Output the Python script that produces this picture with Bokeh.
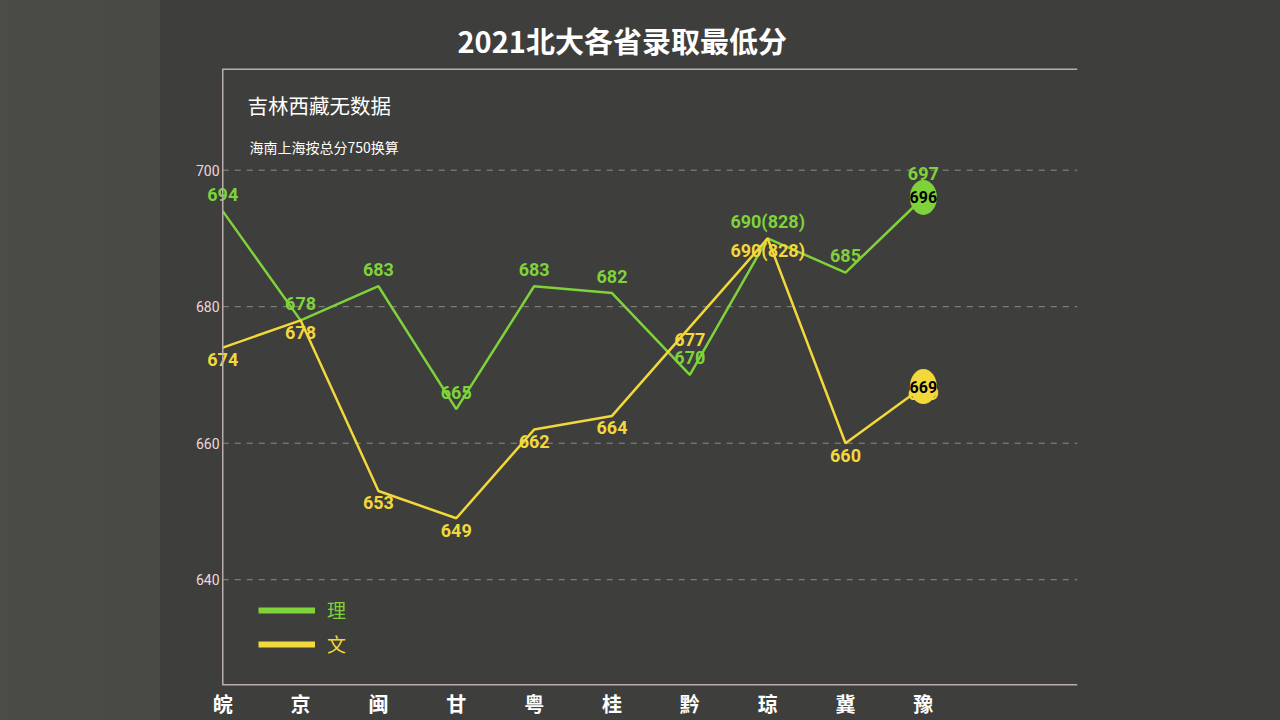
from bokeh.plotting import figure
from bokeh.models import FixedTicker, LinearAxis, Label, Legend, LegendItem, Range1d, Span
from bokeh.core.properties import value
from bokeh.embed import file_html
from bokeh.resources import INLINE

# ---------------- data ----------------
provinces = ["皖", "京", "闽", "甘", "粤", "桂", "黔", "琼", "冀", "豫"]
li_scores = [694, 678, 683, 665, 683, 682, 670, 690, 685, 697]
wen_scores = [674, 678, 653, 649, 662, 664, 677, 690, 660, 669]
li_labels = ["694", "678", "683", "665", "683", "682", "670", "690(828)", "685", "697"]
wen_labels = ["674", "678", "653", "649", "662", "664", "677", "690(828)", "660", "669"]
# animated head marker (current value while the line is drawing)
li_head_value = 696
wen_head_value = 668.3
li_head_label = "696"
wen_head_label = "669"
y_ticks = [640, 660, 680, 700]

title_text = "2021北大各省录取最低分"
note1 = "吉林西藏无数据"
note2 = "海南上海按总分750换算"

GREEN = "#7fd33a"
YELLOW = "#f2d83a"
AXIS = "#b8aeae"
BG = "#3e3e3c"

X0, X1 = -0.35, 10.98   # a little room left of the first category so its labels are not cut
Y0, Y1 = 624.5, 714.9

x_idx = list(range(len(provinces)))
li_line_y = li_scores[:-1] + [li_head_value]
wen_line_y = wen_scores[:-1] + [wen_head_value]

p = figure(width=1280, height=720, output_backend="svg", toolbar_location=None,
           x_range=Range1d(X0, X1), y_range=Range1d(Y0, Y1),
           min_border_left=195, min_border_right=203, min_border_top=68, min_border_bottom=34,
           background_fill_alpha=0, border_fill_alpha=0, outline_line_color=None)

# title
p.title.text = title_text
p.title.align = "left"
p.title.offset = 262
p.title.text_color = "white"
p.title.text_font = "Noto Sans CJK SC"
p.title.text_font_style = "bold"
p.title.text_font_size = "29px"
p.title.standoff = 15

# axes
p.xaxis.ticker = FixedTicker(ticks=x_idx)
p.xaxis.major_label_overrides = {i: n for i, n in zip(x_idx, provinces)}
p.xaxis.major_label_text_color = "white"
p.xaxis.major_label_text_font = "Noto Sans CJK SC"
p.xaxis.major_label_text_font_style = "bold"
p.xaxis.major_label_text_font_size = "20px"
p.xaxis.major_label_standoff = 3
p.yaxis.ticker = FixedTicker(ticks=y_ticks)
p.yaxis.major_label_text_color = "#f0d6dc"
p.yaxis.major_label_text_font = "Roboto"
p.yaxis.major_label_text_font_size = "14px"
p.yaxis.major_label_standoff = -24
for ax in (p.xaxis[0], p.yaxis[0]):
    ax.axis_line_color = None
    ax.major_tick_line_color = None
    ax.minor_tick_line_color = None
    ax.major_tick_out = 0
    ax.major_tick_in = 0

p.xgrid.grid_line_color = None
p.ygrid.grid_line_color = None

# dashed grid lines starting at the vertical axis
n = len(y_ticks)
p.segment(x0=[0] * n, y0=y_ticks, x1=[X1] * n, y1=y_ticks,
          line_color="#8c8c8a", line_dash="6 6", line_width=1)
# frame lines: bottom and top (half of width is clipped at the frame edge), left axis line
p.segment(x0=[0, 0], y0=[Y0, Y1], x1=[X1, X1], y1=[Y0, Y1], line_color=AXIS, line_width=3)
p.add_layout(Span(location=0, dimension="height", line_color=AXIS, line_width=1.5))

# lines
p.line(x_idx, li_line_y, line_color=GREEN, line_width=2.5)
p.line(x_idx, wen_line_y, line_color=YELLOW, line_width=2.5)

# data labels
p.text(x=x_idx, y=li_scores, text=li_labels, text_color=GREEN, text_align="center",
       text_baseline="middle", y_offset=-17, text_font=value("Roboto"),
       text_font_size="18px", text_font_style="bold")
p.text(x=x_idx, y=wen_scores, text=wen_labels, text_color=YELLOW, text_align="center",
       text_baseline="middle", y_offset=12, text_font=value("Roboto"),
       text_font_size="18px", text_font_style="bold")

# head markers
p.ellipse(x=[x_idx[-1]], y=[li_head_value], width=27, height=35, width_units="screen",
          height_units="screen", fill_color=GREEN, line_color=None)
p.ellipse(x=[x_idx[-1]], y=[wen_head_value], width=27, height=35, width_units="screen",
          height_units="screen", fill_color=YELLOW, line_color=None)
p.text(x=[x_idx[-1]], y=[li_head_value], text=[li_head_label], text_color="black",
       text_align="center", text_baseline="middle", text_font=value("Roboto"),
       text_font_size="16px", text_font_style="bold")
p.text(x=[x_idx[-1]], y=[wen_head_value], text=[wen_head_label], text_color="black",
       text_align="center", text_baseline="middle", text_font=value("Roboto"),
       text_font_size="16px", text_font_style="bold")

# legends (two, so each label has its own colour); legend-only renderers hold a NaN point
nan = float("nan")
r_li = p.line(x=[nan], y=[nan], line_color=GREEN, line_width=6)
r_wen = p.line(x=[nan], y=[nan], line_color=YELLOW, line_width=6)
for r, lab, col, loc in ((r_li, "理", GREEN, (63, 62)), (r_wen, "文", YELLOW, (63, 28))):
    leg = Legend(items=[LegendItem(label=lab, renderers=[r])], location=loc,
                 glyph_width=57, glyph_height=20, label_height=20, label_standoff=12,
                 padding=0, margin=0, border_line_color=None, background_fill_alpha=0,
                 label_text_color=col, label_text_font="Noto Sans CJK SC",
                 label_text_font_size="19px")
    p.add_layout(leg)

# notes
p.add_layout(Label(x=52, y=581, x_units="screen", y_units="screen", text=note1,
                   text_align="left", text_baseline="middle", text_color="white",
                   text_font="Noto Sans CJK SC", text_font_size="20.5px"))
p.add_layout(Label(x=54, y=539, x_units="screen", y_units="screen", text=note2,
                   text_align="left", text_baseline="middle", text_color="white",
                   text_font="Noto Sans CJK SC", text_font_size="14px"))

html = file_html(p, INLINE)
html = html.replace("</head>", "<style>html,body{background:linear-gradient(to right,#4c4c47 0px,#4a4a45 160px,"
                    + BG + " 160px," + BG + " 100%);}</style></head>", 1)
open("out.html", "w").write(html)
